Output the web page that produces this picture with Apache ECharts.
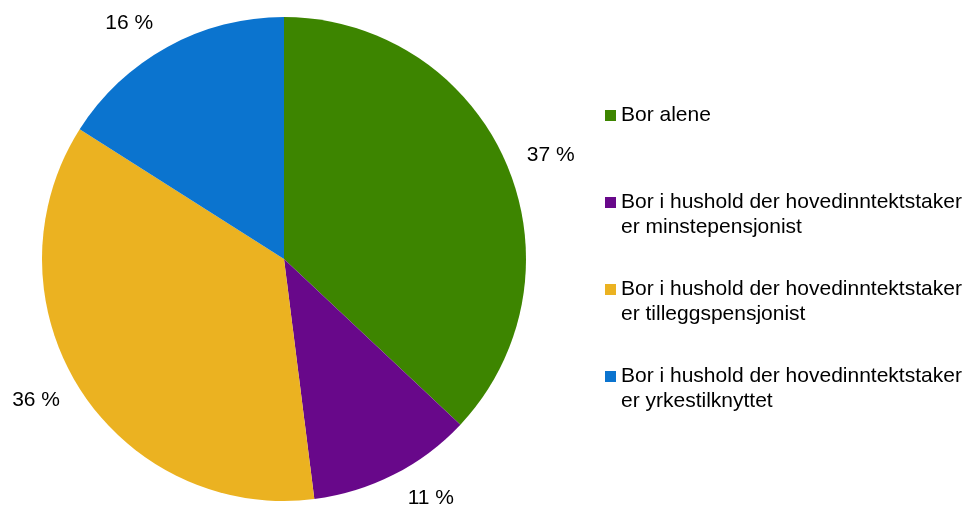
<!DOCTYPE html>
<html lang="no">
<head>
    <meta charset="UTF-8">
    <title>Bor alene / hushold</title>
    <style>
        html, body { margin: 0; padding: 0; background: #fff; }
        #chart { width: 969px; height: 509px; }
    </style>
</head>
<body>
    <div id="chart"></div>
    <script src="https://cdn.jsdelivr.net/npm/echarts@6/dist/echarts.min.js"></script>
    <script>
        // kategorier og verdier (prosent)
        var categories = [
            'Bor alene',
            'Bor i hushold der hovedinntektstaker\ner minstepensjonist',
            'Bor i hushold der hovedinntektstaker\ner tilleggspensjonist',
            'Bor i hushold der hovedinntektstaker\ner yrkestilknyttet'
        ];
        var values = [37, 11, 36, 16];
        var palette = ['#3d8500', '#68088a', '#ebb221', '#0b74cf'];

        var myChart = echarts.init(document.getElementById('chart'));

        var cx = 284, cy = 259;

        var seriesData = [];
        for (var i = 0; i < categories.length; i++) {
            seriesData.push({ name: categories[i], value: values[i] });
        }

        var option = {
            animation: false,
            color: palette,
            textStyle: { fontFamily: '"Liberation Sans", Arial, sans-serif' },
            legend: {
                orient: 'vertical',
                left: 600,
                top: 73,
                itemWidth: 11,
                itemHeight: 11,
                itemGap: 12,
                icon: 'rect',
                // tre linjer per element, slik at ikonet står på høyde med første tekstlinje
                formatter: function (name) {
                    return ' \n' + (name.indexOf('\n') < 0 ? name + '\n ' : name);
                },
                textStyle: {
                    fontSize: 21,
                    lineHeight: 25,
                    color: '#000'
                }
            },
            series: [{
                type: 'pie',
                center: [cx, cy],
                radius: 242,
                startAngle: 90,
                clockwise: true,
                silent: true,
                label: {
                    show: true,
                    position: 'outside',
                    fontSize: 21,
                    color: '#000',
                    formatter: function (p) { return p.value + ' %'; }
                },
                labelLine: { show: false, length: 15, length2: 2 },
                // skyv topp/bunn-etiketter litt lenger ut vertikalt
                labelLayout: function (params) {
                    var r = params.labelRect;
                    var dx = r.x + r.width / 2 - cx;
                    var dy = r.y + r.height / 2 - cy;
                    var s = dy / Math.sqrt(dx * dx + dy * dy);
                    return { dy: 15 * s * Math.abs(s) };
                },
                data: seriesData
            }]
        };

        myChart.setOption(option);
    </script>
</body>
</html>
